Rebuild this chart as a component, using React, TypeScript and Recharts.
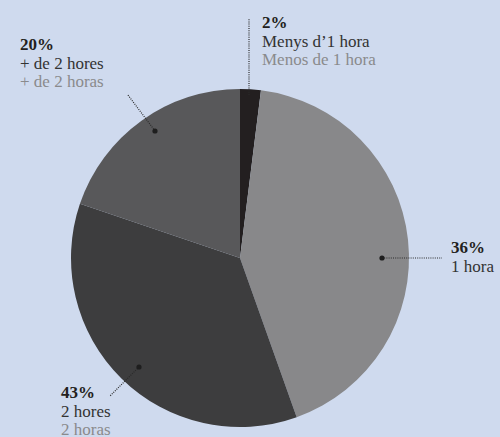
import React from "react";
import { PieChart, Pie, Cell } from "recharts";

const categories = ["Menys d’1 hora", "1 hora", "2 hores", "+ de 2 hores"];
const categoriesEs = ["Menos de 1 hora", "", "2 horas", "+ de 2 horas"];
const values = [2, 43, 36, 20];
const percentLabels = ["2%", "36%", "43%", "20%"];

const colors = ["#231f20", "#88888a", "#3d3d3e", "#58585a"];
const BG = "#cfdaee";
const FONT = "'Liberation Serif', 'Times New Roman', 'DejaVu Serif', serif";

const data = categories.map((name, i) => ({ name, value: values[i] }));

// annotation layout, offsets relative to pie centre
const annot = [
  { dot: null, line: [9, -163, 9, -240], text: [22, -230] },
  { dot: [142, 0], line: [142, 0, 202, 0], text: [211, -5] },
  { dot: [-101, 109], line: [-101, 109, -130, 138], text: [-179, 140] },
  { dot: [-85, -127], line: [-85, -127, -112, -163], text: [-220, -208] },
];

const LH = 18.5;

const renderLabel = (props: any) => {
  const { cx, cy, index } = props;
  const a = annot[index];
  const tx = cx + a.text[0];
  const ty = cy + a.text[1];
  const lines = [categories[index], categoriesEs[index]].filter((s) => s);
  return (
    <g key={"lbl" + index}>
      <line
        x1={cx + a.line[0]}
        y1={cy + a.line[1]}
        x2={cx + a.line[2]}
        y2={cy + a.line[3]}
        stroke="#2a2a2a"
        strokeWidth={1.2}
        strokeDasharray="1 1.2"
      />
      {a.dot && <circle cx={cx + a.dot[0]} cy={cy + a.dot[1]} r={2.6} fill="#1e1e1e" />}
      <text x={tx} y={ty} style={{ fontFamily: FONT }} fontSize={17} fontWeight="bold" fill="#231f20">
        {percentLabels[index]}
      </text>
      {lines.map((s, j) => (
        <text
          key={j}
          x={tx}
          y={ty + LH * (j + 1)}
          style={{ fontFamily: FONT }}
          fontSize={17}
          fill={j === 0 ? "#333333" : "#8a8a8c"}
        >
          {s}
        </text>
      ))}
    </g>
  );
};

export default function App() {
  return (
    <div style={{ position: "absolute", left: 0, top: 0, width: 500, height: 437, background: BG, fontFamily: FONT }}>
      <PieChart width={500} height={437} margin={{ top: 0, right: 0, bottom: 0, left: 0 }}>
        <Pie
          data={data}
          dataKey="value"
          nameKey="name"
          cx={240}
          cy={258}
          outerRadius={169}
          startAngle={90}
          endAngle={-270}
          stroke="none"
          label={renderLabel}
          labelLine={false}
          isAnimationActive={false}
        >
          {data.map((d, i) => (
            <Cell key={d.name} fill={colors[i]} />
          ))}
        </Pie>
      </PieChart>
    </div>
  );
}
